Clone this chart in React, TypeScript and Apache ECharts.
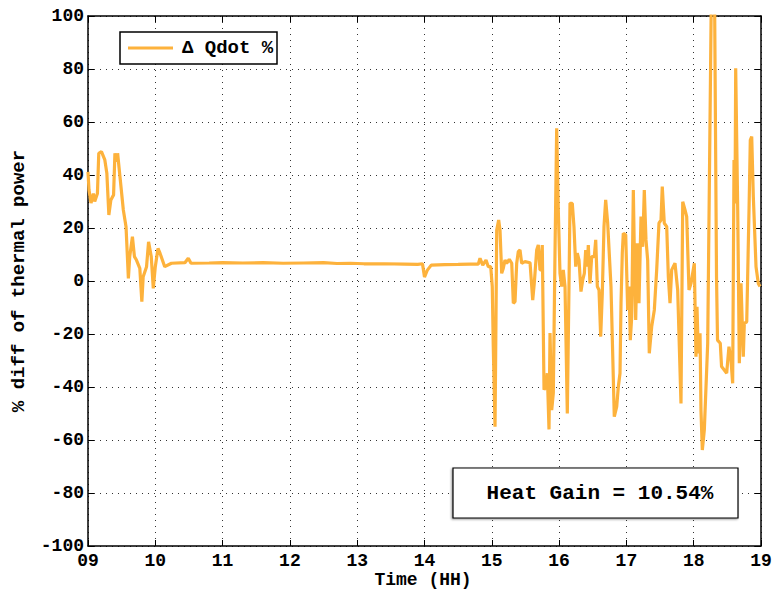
import React, { useEffect, useRef } from "react";
import * as echarts from "echarts";

const hours: number[] = [
  9.0, 9.015, 9.045, 9.08, 9.1, 9.14, 9.16, 9.2, 9.25, 9.28, 9.31, 9.34, 9.38, 9.4, 9.43, 9.44, 9.475,
  9.525, 9.565, 9.6, 9.62, 9.66, 9.69, 9.72, 9.77, 9.8, 9.82, 9.87, 9.9, 9.94, 9.97, 10.0, 10.04, 10.07,
  10.14, 10.24, 10.44, 10.49, 10.53, 10.8, 11.0, 11.3, 11.6, 11.9, 12.2, 12.5, 12.7, 12.9, 13.1, 13.4,
  13.7, 13.9, 13.97, 14.0, 14.04, 14.1, 14.3, 14.5, 14.676, 14.8, 14.825, 14.865, 14.914, 14.948, 14.984,
  15.007, 15.022, 15.048, 15.062, 15.073, 15.102, 15.122, 15.147, 15.171, 15.196, 15.221, 15.26, 15.296,
  15.32, 15.345, 15.37, 15.394, 15.419, 15.444, 15.493, 15.568, 15.608, 15.631, 15.667, 15.691, 15.716,
  15.731, 15.75, 15.776, 15.805, 15.825, 15.85, 15.865, 15.89, 15.914, 15.939, 15.964, 15.988, 16.013,
  16.039, 16.062, 16.088, 16.122, 16.147, 16.162, 16.196, 16.221, 16.247, 16.27, 16.296, 16.325, 16.351,
  16.375, 16.395, 16.419, 16.434, 16.459, 16.484, 16.523, 16.544, 16.568, 16.593, 16.618, 16.642, 16.667,
  16.692, 16.722, 16.771, 16.82, 16.856, 16.88, 16.905, 16.92, 16.939, 16.954, 16.99, 17.019, 17.039,
  17.058, 17.079, 17.103, 17.118, 17.138, 17.162, 17.187, 17.217, 17.242, 17.266, 17.291, 17.316, 17.34,
  17.376, 17.415, 17.45, 17.484, 17.514, 17.533, 17.563, 17.599, 17.623, 17.648, 17.673, 17.722, 17.762,
  17.811, 17.837, 17.871, 17.896, 17.93, 17.96, 18.009, 18.034, 18.049, 18.068, 18.094, 18.108, 18.128,
  18.158, 18.208, 18.262, 18.31, 18.339, 18.354, 18.395, 18.414, 18.454, 18.49, 18.524, 18.554, 18.579,
  18.599, 18.614, 18.624, 18.654, 18.678, 18.703, 18.737, 18.752, 18.788, 18.822, 18.841, 18.862, 18.886,
  18.926, 18.96, 18.985,
];

const diffPct: number[] = [
  41.2, 34.3, 29.4, 33, 30, 33, 48.2, 48.8, 45.7, 40.7, 24.9, 30.6, 32.5, 48.2, 45, 48.2, 39.4,
  26.8, 20.5, 1, 9.2, 16.7, 9.2, 7.9, 4.8, -7.8, 1.6, 5.4, 14.8, 9.2, -2.8, 5.4, 12.3, 10.5,
  5.4, 6.7, 6.9, 8.6, 6.7, 6.8, 6.9, 6.8, 6.9, 6.7, 6.8, 6.9, 6.6, 6.7, 6.5, 6.5,
  6.4, 6.3, 6.5, 1.5, 4.0, 6.0, 6.2, 6.3, 6.4, 6.4, 8.6, 6.0, 7.9, 5.4, 5.4,
  -2.1, -24.8, -55, -14.7, 19.2, 23, 19.2, 2.9, 4.8, 7.9, 6.7, 8.2, 6.7,
  -8.4, -7.8, 6.7, 11.1, 11.7, 6.7, 7.3, 6.9, -7.2, -0.9, 11.7, 13.6, 4.2,
  4.2, 13.6, -41, -39.9, -34.8, -56, -19.6, -48.7, -42.3, 10.6, 57.6, 26.8, 2.9,
  -2.1, 4.2, -2.1, -50, -2.1, 29.3, 29.3, 20.5, 5.4, 10.5, 7.9, -4, 0.4,
  2.9, 11.7, 5.4, 13.6, -0.9, 9.2, 9.2, 15.5, -2.1, -3.4, -21, -4.6, 20.5,
  30.6, 21.8, -2.1, -51.2, -47.4, -39.9, -34.8, -8.4, 10.5, 18, 17.4, -10.9, -2.1,
  -22.3, -13.5, 34.3, 10.5, -14.7, 14.2, -8.4, 24.3, 12.9, 34.3, 15.5, 7.9, -27.3,
  -17.2, -10.9, 4.2, 21.8, 23, 35.6, 21.8, 20.5, 1.6, -8.4, 4.2, 6.7, -3.4,
  -46.2, 29.9, 26.8, 24.3, -3.4, -0.9, 6.7, -28.6, -9.7, -27.3, -19.7, -48.7, -63.8,
  -56.2, -23.5, 108, 108, 1.6, -22.3, -23.5, -32.3, -33.6, -34.8, -24.8, -29.8, -38.6,
  45.7, 29.3, 80.3, 26.8, -31, -0.9, -28.6, -16, -15.4, 26.8, 53.2, 54.5, 31.8,
  5.4, -0.9, -2.1,
];

const seriesName = "\u0394 Qdot %";
const heatGainText = "Heat Gain = 10.54%";
const xTitle = "Time (HH)";
const yTitle = "% diff of thermal power";

const FONT = '"Courier New", Courier, "Liberation Mono", monospace';
const LINE_COLOR = "#FDB23C";

export default function App() {
  const ref = useRef<HTMLDivElement>(null);
  useEffect(() => {
    document.body.style.margin = "0";
    if (!ref.current) return;
    const chart = echarts.init(ref.current, undefined, { renderer: "svg" });
    const data = hours.map((h, i) => [h, diffPct[i]]);
    const textBase = { color: "#000", fontFamily: FONT, fontWeight: "bold" as const, fontSize: 18 };
    const gridLine = { show: true, lineStyle: { color: "#333", type: [1, 5] as any, width: 1 } };
    const axisLine = { show: true, onZero: false, lineStyle: { color: "#000", width: 1.5 } };
    const tick = { show: true, inside: true, length: 6, lineStyle: { color: "#000", width: 1 } };
    chart.setOption({
      animation: false,
      backgroundColor: "#fff",
      grid: { left: 88, right: 11, top: 16, bottom: 45, outerBoundsMode: "none", containLabel: false },
      xAxis: [
        {
          type: "value",
          min: 9,
          max: 19,
          interval: 1,
          position: "bottom",
          axisLine,
          axisTick: tick,
          axisLabel: {
            ...textBase,
            lineHeight: 12,
            margin: 9,
            formatter: (v: number) => (v < 10 ? "0" + v : String(v)),
          },
          splitLine: gridLine,
        },
        {
          type: "value",
          min: 9,
          max: 19,
          interval: 1,
          position: "top",
          axisLine,
          axisTick: tick,
          axisLabel: { show: false },
          splitLine: { show: false },
        },
      ],
      yAxis: [
        {
          type: "value",
          min: -100,
          max: 100,
          interval: 20,
          position: "left",
          axisLine,
          axisTick: tick,
          axisLabel: { ...textBase, lineHeight: 11, margin: 4 },
          splitLine: gridLine,
          name: yTitle,
          nameLocation: "middle",
          nameGap: 60,
          nameTextStyle: { ...textBase, fontSize: 19 },
        },
        {
          type: "value",
          min: -100,
          max: 100,
          interval: 20,
          position: "right",
          axisLine,
          axisTick: tick,
          axisLabel: { show: false },
          splitLine: { show: false },
        },
      ],
      series: [
        {
          name: seriesName,
          type: "line",
          data,
          showSymbol: false,
          symbol: "none",
          clip: true,
          lineStyle: { color: LINE_COLOR, width: 3.2 },
          itemStyle: { color: LINE_COLOR },
          xAxisIndex: 0,
          yAxisIndex: 0,
        },
      ],
      graphic: [
        {
          type: "text",
          z: 101,
          x: 423,
          y: 580,
          style: {
            text: xTitle,
            fill: "#000",
            font: `bold 18px ${FONT}`,
            lineHeight: 12,
            verticalAlign: "middle",
            align: "center",
          },
        },
        {
          type: "rect",
          z: 100,
          shape: { x: 120, y: 32, width: 157, height: 32 },
          style: { fill: "#fff", stroke: "#000", lineWidth: 1.5 },
        },
        {
          type: "line",
          z: 101,
          shape: { x1: 128, y1: 48, x2: 173, y2: 48 },
          style: { stroke: LINE_COLOR, lineWidth: 3 },
        },
        {
          type: "text",
          z: 101,
          x: 182,
          y: 48,
          style: {
            text: seriesName,
            fill: "#000",
            font: `bold 19px ${FONT}`,
            verticalAlign: "middle",
            align: "left",
          },
        },
        {
          type: "rect",
          z: 100,
          shape: { x: 453, y: 468, width: 285, height: 50 },
          style: {
            fill: "#fff",
            stroke: "#000",
            lineWidth: 1.2,
            shadowBlur: 2,
            shadowColor: "rgba(0,0,0,0.4)",
            shadowOffsetX: -1,
            shadowOffsetY: 1,
          },
        },
        {
          type: "text",
          z: 101,
          x: 600,
          y: 493,
          style: {
            text: heatGainText,
            fill: "#000",
            font: `bold 21px ${FONT}`,
            verticalAlign: "middle",
            align: "center",
          },
        },
      ],
    });
    return () => chart.dispose();
  }, []);
  return <div ref={ref} style={{ width: 772, height: 591 }} />;
}
